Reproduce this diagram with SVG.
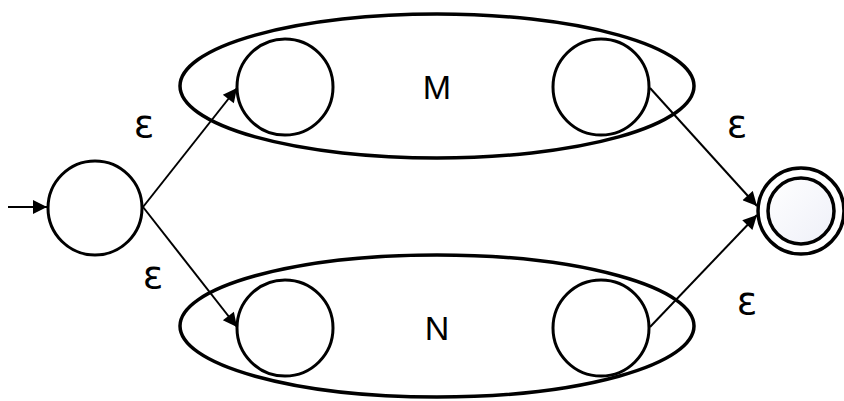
<svg xmlns="http://www.w3.org/2000/svg" width="844" height="401" viewBox="0 0 844 401">
<style>
.st{fill:none;stroke:#000;stroke-width:3}
.fs{stroke:#000;stroke-width:3.5}
.el{fill:none;stroke:#000;stroke-width:3.5}
.edge{stroke:#000;stroke-width:2;fill:none}
.lbl{font-family:"Liberation Sans",Arial,sans-serif;font-size:34px;fill:#000;text-anchor:middle;dominant-baseline:central}
.eps{font-family:"DejaVu Sans","Liberation Sans",sans-serif;font-size:38px;fill:#000;text-anchor:middle;dominant-baseline:central}
</style>
<defs>
<marker id="ah" viewBox="0 0 10 10" refX="10" refY="5" markerWidth="8" markerHeight="7" markerUnits="strokeWidth" orient="auto">
<path d="M0,0 L10,5 L0,10 z" fill="#000"/>
</marker>
<linearGradient id="fg" x1="0" y1="0" x2="1" y2="1">
<stop offset="0" stop-color="#ffffff"/>
<stop offset="1" stop-color="#eef0f8"/>
</linearGradient>
</defs>
<rect width="844" height="401" fill="#fff"/>
<g id="groupM">
<ellipse class="el" cx="437" cy="86" rx="257" ry="72"/>
<text class="lbl" x="437" y="87">M</text>
</g>
<g id="groupN">
<ellipse class="el" cx="437" cy="326" rx="257" ry="71"/>
<text class="lbl" x="437" y="328">N</text>
</g>
<g id="start"><circle class="st" cx="95" cy="208" r="47"/></g>
<g id="m1"><circle class="st" cx="285" cy="87" r="48"/></g>
<g id="m2"><circle class="st" cx="601" cy="87" r="48"/></g>
<g id="n1"><circle class="st" cx="285" cy="328" r="48"/></g>
<g id="n2"><circle class="st" cx="601" cy="328" r="48"/></g>
<g id="final">
<circle class="fs" cx="801" cy="211" r="43" fill="#fff"/>
<circle class="fs" cx="801" cy="211" r="33" style="fill:url(#fg)"/>
</g>
<g id="connectors">
<line class="edge" x1="8" y1="207" x2="47" y2="207" marker-end="url(#ah)"/>
<line class="edge" x1="143" y1="207" x2="237" y2="88" marker-end="url(#ah)"/>
<line class="edge" x1="143" y1="207" x2="237" y2="327" marker-end="url(#ah)"/>
<line class="edge" x1="650" y1="88" x2="757" y2="206" marker-end="url(#ah)"/>
<line class="edge" x1="650" y1="327" x2="757" y2="215" marker-end="url(#ah)"/>
<text class="eps" x="144" y="124">ε</text>
<text class="eps" x="153" y="275">ε</text>
<text class="eps" x="737" y="124">ε</text>
<text class="eps" x="747" y="301">ε</text>
</g>
</svg>
